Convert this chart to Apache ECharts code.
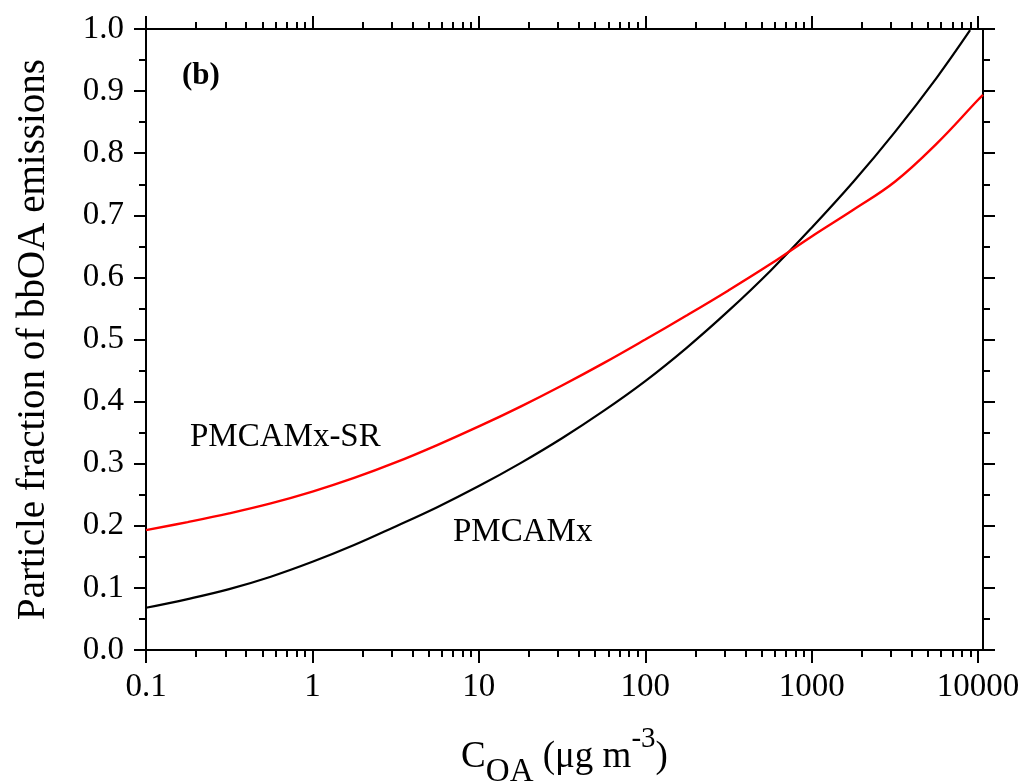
<!DOCTYPE html>
<html>
<head>
<meta charset="utf-8">
<script src="https://cdn.jsdelivr.net/npm/echarts@6/dist/echarts.min.js"></script>
<style>
html,body{margin:0;padding:0;background:#fff;}
#chart{width:1027px;height:782px;}
</style>
</head>
<body>
<div id="chart"></div>
<script>
// ---- data ----
const coa = [0.1, 0.178, 0.316, 0.562, 1, 1.78, 3.16, 5.62, 10, 17.8, 31.6, 56.2, 100, 178, 316, 562, 1000, 1780, 3160, 5620, 8950];
const pmcamx = [0.068, 0.082, 0.098, 0.118, 0.142, 0.169, 0.199, 0.230, 0.264, 0.301, 0.341, 0.385, 0.433, 0.487, 0.546, 0.610, 0.680, 0.754, 0.834, 0.921, 0.998];
const coaSR = [0.1, 0.178, 0.316, 0.562, 1, 1.78, 3.16, 5.62, 10, 17.8, 31.6, 56.2, 100, 178, 316, 562, 1000, 1780, 3160, 5620, 10000, 10700];
const pmcamxSR = [0.193, 0.206, 0.220, 0.236, 0.255, 0.277, 0.302, 0.330, 0.360, 0.392, 0.426, 0.462, 0.500, 0.539, 0.579, 0.621, 0.666, 0.709, 0.754, 0.815, 0.886, 0.894];
const xTickValues = [0.1, 1, 10, 100, 1000, 10000];
const xTickLabels = ['0.1', '1', '10', '100', '1000', '10000'];
const xMin = 0.1, xMax = 10700;

const FONT = '"Liberation Serif", "Times New Roman", serif';
const L = Math.log10;
const majorPos = xTickValues.map(L);
const minorPos = [];
xTickValues.forEach(function (d) {
  for (let k = 2; k <= 9; k++) { const v = d * k; if (v <= xMax) minorPos.push(L(v)); }
});
const labelMap = {};
majorPos.forEach(function (p, i) { labelMap[p.toFixed(4)] = xTickLabels[i]; });

function tickAxis(position, values, len, withLine, withLabel) {
  return {
    type: 'value', position: position, min: L(xMin), max: L(xMax),
    axisLine: { show: withLine, onZero: false, lineStyle: { color: '#000', width: 2 } },
    axisTick: { show: true, customValues: values, length: len, inside: false, lineStyle: { color: '#000', width: 2 } },
    axisLabel: withLabel ? {
      show: true, customValues: majorPos, margin: 21, color: '#000', fontSize: 33, fontFamily: FONT,
      formatter: function (v) { return labelMap[v.toFixed(4)] || ''; }
    } : { show: false },
    splitLine: { show: false }
  };
}

const xAxes = [
  { type: 'log', min: xMin, max: xMax, show: false, logBase: 10 },
  Object.assign(tickAxis('bottom', majorPos, 13, true, true), {
    name: '{m|C}{sub|OA}{m| (μg m}{sup|-3}{m|)}',
    nameLocation: 'middle', nameGap: 75,
    nameTextStyle: {
      fontFamily: FONT, color: '#000',
      rich: {
        m: { fontSize: 37, fontFamily: FONT, color: '#000', lineHeight: 64, verticalAlign: 'middle' },
        sub: { fontSize: 33, fontFamily: FONT, color: '#000', lineHeight: 40, verticalAlign: 'bottom' },
        sup: { fontSize: 29, fontFamily: FONT, color: '#000', lineHeight: 40, verticalAlign: 'top' }
      }
    }
  }),
  tickAxis('bottom', minorPos, 7, false, false),
  tickAxis('top', majorPos, 13, true, false),
  tickAxis('top', minorPos, 7, false, false)
];

function yAx(position, withLabel) {
  const a = {
    type: 'value', position: position, min: 0, max: 1, interval: 0.1,
    axisLine: { show: true, onZero: false, lineStyle: { color: '#000', width: 2 } },
    axisTick: { show: true, length: 12, inside: false, lineStyle: { color: '#000', width: 2 } },
    minorTick: { show: true, splitNumber: 2, length: 7, lineStyle: { color: '#000', width: 2 } },
    splitLine: { show: false }, minorSplitLine: { show: false },
    axisLabel: withLabel ? { show: true, margin: 22, color: '#000', fontSize: 33, fontFamily: FONT, formatter: function (v) { return v.toFixed(1); } } : { show: false }
  };
  if (withLabel) {
    a.name = 'Particle fraction of bbOA emissions';
    a.nameLocation = 'middle';
    a.nameRotate = 90;
    a.nameGap = 93;
    a.nameTextStyle = { fontFamily: FONT, fontSize: 39, color: '#000' };
  }
  return a;
}

const chart = echarts.init(document.getElementById('chart'), null, { renderer: 'canvas' });
chart.setOption({
  backgroundColor: '#fff',
  animation: false,
  grid: { left: 146, right: 44, top: 29, bottom: 132, outerBoundsMode: 'none', containLabel: false },
  xAxis: xAxes,
  yAxis: [yAx('left', true), yAx('right', false)],
  series: [
    { name: 'PMCAMx', type: 'line', xAxisIndex: 0, yAxisIndex: 0, data: coa.map(function (x, i) { return [x, pmcamx[i]]; }),
      showSymbol: false, smooth: 0.4, lineStyle: { color: '#000', width: 2.2 }, clip: true },
    { name: 'PMCAMx-SR', type: 'line', xAxisIndex: 0, yAxisIndex: 0, data: coaSR.map(function (x, i) { return [x, pmcamxSR[i]]; }),
      showSymbol: false, smooth: 0.4, lineStyle: { color: '#ff0000', width: 2.4 }, clip: true }
  ],
  graphic: [
    { type: 'text', left: 182, top: 60, style: { text: '(b)', font: 'bold 31px ' + FONT, fill: '#000' } },
    { type: 'text', left: 190, top: 421, style: { text: 'PMCAMx-SR', font: '33px ' + FONT, fill: '#000' } },
    { type: 'text', left: 453, top: 516, style: { text: 'PMCAMx', font: '33px ' + FONT, fill: '#000' } }
  ]
});
</script>
</body>
</html>
